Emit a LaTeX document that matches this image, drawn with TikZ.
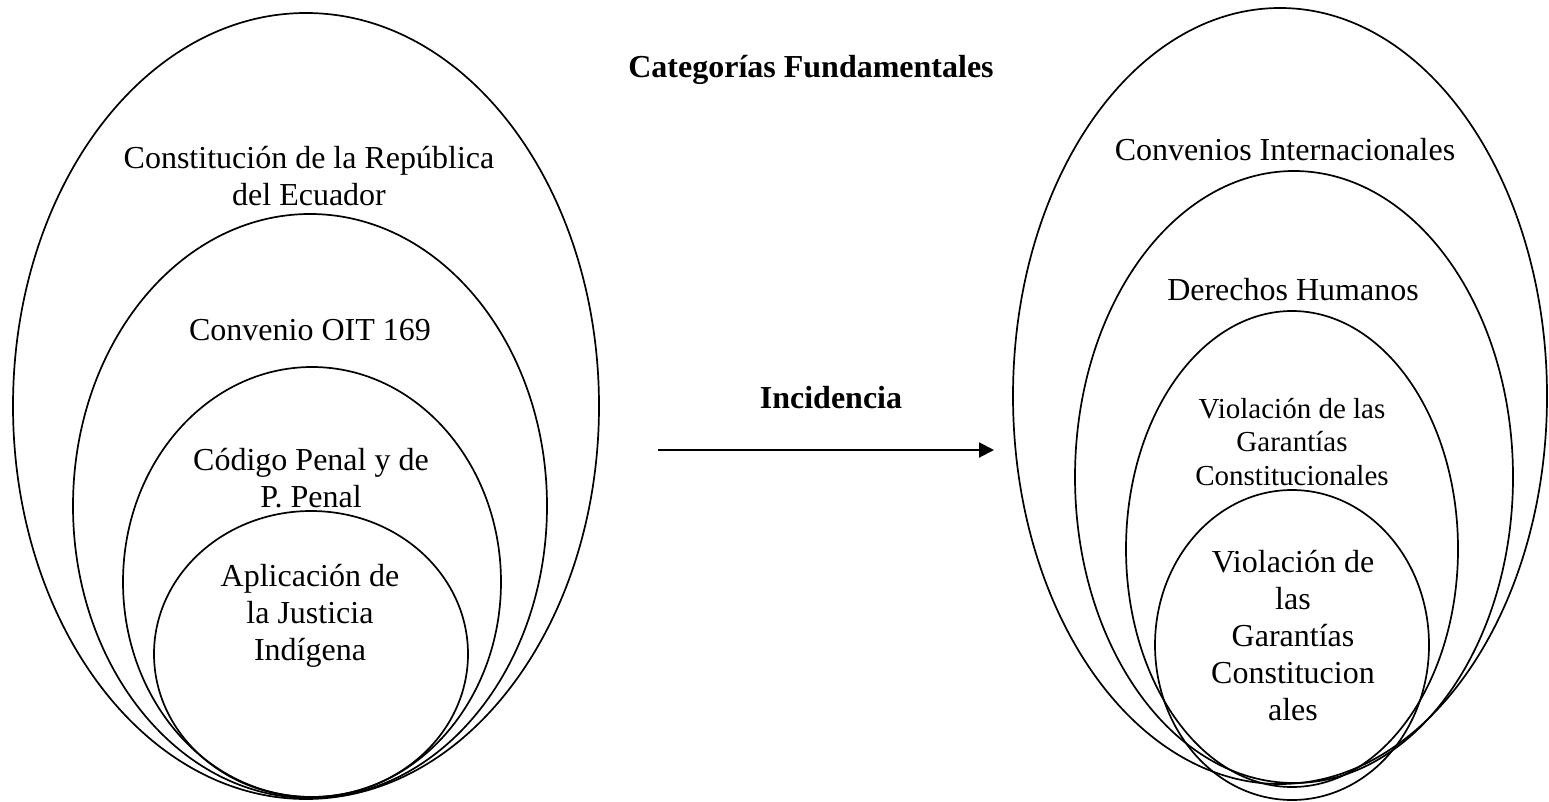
\documentclass[tikz,border=0pt]{standalone}
\usepackage{fontspec}
\setmainfont{Liberation Serif}
\usetikzlibrary{arrows.meta}
\begin{document}
\begin{tikzpicture}[x=1pt,y=-1pt,
  ring/.style={line width=1.7pt},
  lbl/.style={align=center, inner sep=0pt, font=\fontsize{32}{37}\selectfont},
  slbl/.style={align=center, inner sep=0pt, font=\fontsize{29}{33.5}\selectfont},
  ttl/.style={inner sep=0pt, anchor=base, font=\fontsize{32}{38}\selectfont\bfseries},
  link/.style={line width=2pt, -{Triangle[length=15pt,width=15pt]}}]
\useasboundingbox (0,0) rectangle (1549,802);
% left group
\draw[ring] (306,406) ellipse [x radius=293, y radius=393];
\draw[ring] (310,506) ellipse [x radius=237, y radius=292];
\draw[ring] (312,582) ellipse [x radius=189, y radius=215];
\draw[ring] (311,654) ellipse [x radius=157, y radius=143];
% right group
\draw[ring] (1280,396) ellipse [x radius=267, y radius=388];
\draw[ring] (1294,477) ellipse [x radius=219, y radius=306];
\draw[ring] (1292,549) ellipse [x radius=166, y radius=238];
\draw[ring] (1292,645) ellipse [x radius=137, y radius=155];
% labels left
\node[lbl] (l1) at (309,176) {Constitución de la República\\del Ecuador};
\node[lbl] (l2) at (310,330) {Convenio OIT 169};
\node[lbl] (l3) at (311,478) {Código Penal y de\\P. Penal};
\node[lbl] (l4) at (310,616) {Aplicación de\\la Justicia\\Indígena};
% labels right
\node[lbl] (r1) at (1285,150) {Convenios Internacionales};
\node[lbl] (r2) at (1293,290) {Derechos Humanos};
\node[slbl] (r3) at (1292,442) {Violación de las\\Garantías\\Constitucionales};
\node[lbl] (r4) at (1293,636) {Violación de\\las\\Garantías\\Constitucion\\ales};
% titles
\node[ttl] (t1) at (811,78) {Categorías Fundamentales};
\node[ttl] (t2) at (831,408) {Incidencia};
% arrow
\coordinate (a1) at (658,450);
\coordinate (a2) at (994,450);
\draw[link] (a1) -- (a2);
\end{tikzpicture}
\end{document}
